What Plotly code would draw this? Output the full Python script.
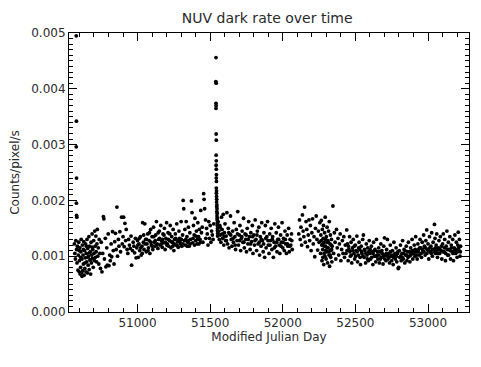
import plotly.graph_objects as go

# (MJD, dark rate in units of 1e-3 counts/pixel/s)
early_spike = [(50578, 4.95), (50579, 3.42), (50578, 2.96), (50580, 2.40), (50579, 1.95), (50580, 1.73), (50582, 1.70)]

early_cluster = [
    (50565, 1.22), (50568, 1.05), (50572, 0.95), (50575, 1.28), (50580, 1.12), (50583, 0.88), (50586, 1.18),
    (50590, 0.75), (50592, 1.02), (50595, 1.25), (50598, 0.72), (50600, 0.92), (50603, 1.15), (50605, 0.68),
    (50608, 0.80), (50610, 1.08), (50612, 1.30), (50615, 0.70), (50617, 0.95), (50620, 1.20), (50622, 0.74),
    (50625, 1.02), (50627, 0.86), (50630, 1.26), (50632, 0.66), (50635, 1.10), (50637, 0.78), (50640, 0.97),
    (50642, 1.22), (50645, 0.72), (50647, 1.05), (50650, 0.90), (50652, 1.30), (50655, 0.70), (50657, 1.14),
    (50660, 0.84), (50662, 1.00), (50665, 1.35), (50667, 0.76), (50670, 1.18), (50672, 0.93), (50675, 1.08),
    (50677, 0.68), (50680, 1.25), (50682, 0.88), (50685, 1.02), (50687, 1.40), (50690, 0.96), (50692, 1.12),
    (50695, 0.80), (50698, 1.28), (50700, 1.05), (50703, 0.92), (50705, 1.45), (50708, 1.18), (50710, 0.98),
    (50713, 1.36), (50715, 1.08), (50718, 0.90), (50720, 1.22), (50723, 1.48), (50726, 1.00), (50730, 1.15),
    (50733, 0.86), (50736, 1.30), (50740, 1.05), (50618, 0.64), (50628, 1.12), (50638, 0.88), (50648, 1.18),
    (50658, 0.98), (50668, 1.06), (50678, 0.94), (50688, 1.16), (50598, 1.10), (50608, 0.98),
]

rise = [
    (50745, 0.78), (50750, 1.25), (50755, 0.72), (50760, 1.05), (50765, 1.71), (50768, 1.67), (50772, 0.95),
    (50778, 1.32), (50782, 0.81), (50788, 1.15), (50792, 0.84), (50798, 1.40), (50803, 0.83), (50808, 1.02),
    (50812, 0.92), (50818, 1.22), (50822, 0.99), (50828, 1.44), (50833, 1.10), (50838, 0.86), (50843, 1.26),
    (50848, 1.41), (50853, 1.12), (50858, 1.88), (50862, 1.00), (50868, 1.30), (50872, 1.18), (50878, 1.44),
    (50883, 1.08), (50890, 1.70), (50895, 1.22), (50900, 1.35), (50904, 1.70), (50908, 1.17), (50913, 1.59),
    (50918, 1.28), (50922, 1.48), (50928, 1.12), (50933, 1.05), (50938, 1.30), (50944, 1.20), (50950, 1.14),
    (50955, 1.36), (50959, 0.84), (50965, 1.10), (50970, 1.25), (50975, 1.18), (50980, 1.06), (50985, 1.32),
    (50990, 0.97),
]

plateau = [
    (50995, 1.15), (51000, 1.28), (51005, 0.98), (51010, 1.22), (51015, 1.10), (51020, 1.35), (51025, 1.02),
    (51030, 1.18), (51035, 1.60), (51040, 1.25), (51045, 1.12), (51050, 1.58), (51055, 1.30), (51060, 1.08),
    (51065, 1.22), (51070, 1.40), (51075, 1.15), (51080, 1.28), (51085, 1.05), (51090, 1.48), (51095, 1.20),
    (51100, 1.35), (51105, 1.12), (51110, 1.52), (51115, 1.25), (51120, 1.18), (51125, 1.38), (51130, 1.62),
    (51135, 1.22), (51140, 1.14), (51145, 1.30), (51150, 1.45), (51155, 1.20), (51160, 1.55), (51165, 1.28),
    (51170, 1.16), (51175, 1.40), (51180, 1.24), (51185, 1.50), (51190, 1.12), (51195, 1.32), (51200, 1.60),
    (51205, 1.22), (51210, 1.42), (51215, 1.18), (51220, 1.28), (51225, 1.55), (51230, 1.15), (51235, 1.35),
    (51240, 1.25), (51245, 1.48), (51250, 1.10), (51255, 1.30), (51260, 1.40), (51265, 1.20), (51270, 1.58),
    (51275, 1.26), (51280, 1.16), (51285, 1.45), (51290, 1.32), (51295, 1.22), (51300, 1.62), (51305, 1.18),
    (51310, 1.38), (51314, 2.00), (51318, 1.85), (51322, 1.28), (51326, 1.48), (51330, 1.20), (51335, 1.62),
    (51340, 1.35), (51345, 1.25), (51350, 1.52), (51355, 1.18), (51360, 1.42), (51365, 1.30), (51371, 1.99),
    (51375, 1.78), (51380, 1.24), (51385, 1.55), (51390, 1.38), (51395, 1.68), (51400, 1.28), (51405, 1.45),
    (51410, 1.22), (51415, 1.60), (51420, 1.35), (51425, 1.48), (51430, 1.30), (51435, 1.82), (51440, 1.42),
    (51002, 1.20), (51012, 1.32), (51022, 1.15), (51032, 1.05), (51042, 1.38), (51052, 1.22), (51062, 1.30),
    (51072, 1.10), (51082, 1.42), (51092, 1.25), (51102, 1.18), (51112, 1.35), (51122, 1.28), (51132, 1.20),
    (51142, 1.42), (51152, 1.32), (51162, 1.22), (51172, 1.30), (51182, 1.38), (51192, 1.25), (51202, 1.20),
    (51212, 1.30), (51222, 1.40), (51232, 1.26), (51242, 1.18), (51252, 1.22), (51262, 1.32), (51272, 1.20),
    (51282, 1.30), (51292, 1.26), (51302, 1.30), (51312, 1.22), (51332, 1.30), (51342, 1.18), (51352, 1.28),
    (51362, 1.22), (51382, 1.32), (51392, 1.20), (51402, 1.36), (51412, 1.30), (51422, 1.22), (51432, 1.25),
    (51445, 1.52), (51450, 1.25), (51455, 2.12), (51458, 2.02), (51462, 1.85), (51468, 1.65), (51470, 1.32),
    (51475, 1.50), (51480, 1.40), (51485, 1.20), (51490, 1.62), (51495, 1.32), (51500, 1.55), (51505, 1.25),
    (51510, 1.45), (51515, 1.38), (51520, 1.30), (51525, 1.58),
]

flare = [
    (51540, 4.56), (51539, 4.13), (51541, 4.10), (51540, 3.74), (51541, 3.70), (51540, 3.65), (51541, 3.19),
    (51542, 3.08), (51541, 2.81), (51542, 2.71), (51541, 2.63), (51542, 2.56), (51543, 2.46), (51542, 2.40),
    (51543, 2.34), (51542, 2.22), (51544, 2.17), (51543, 2.13), (51544, 2.07), (51545, 2.02), (51544, 1.97),
    (51546, 1.92), (51545, 1.89), (51547, 1.85), (51546, 1.80), (51548, 1.77), (51547, 1.72), (51549, 1.68),
    (51548, 1.65), (51550, 1.60), (51549, 1.55), (51551, 1.50), (51550, 1.46), (51552, 1.41), (51551, 1.36),
]

post_flare = [
    (51555, 1.62), (51560, 1.45), (51563, 1.30), (51566, 1.55), (51570, 1.38), (51574, 1.25), (51578, 1.70),
    (51582, 1.48), (51586, 1.32), (51590, 1.75), (51594, 1.20), (51598, 1.42), (51602, 1.58), (51606, 1.28),
    (51610, 1.36), (51615, 1.78), (51620, 1.22), (51625, 1.50), (51630, 1.15), (51635, 1.40), (51640, 1.72),
    (51645, 1.30), (51650, 1.18), (51655, 1.45), (51660, 1.25), (51665, 1.60), (51670, 1.35), (51675, 1.12),
    (51680, 1.48), (51685, 1.28), (51690, 1.80), (51695, 1.20), (51700, 1.38), (51705, 1.55), (51710, 1.10),
    (51715, 1.32), (51720, 1.45), (51725, 1.25), (51730, 1.68), (51735, 1.15), (51740, 1.40), (51745, 1.30),
    (51750, 1.08), (51755, 1.50), (51760, 1.22), (51765, 1.62), (51770, 1.35), (51775, 1.12), (51780, 1.42),
    (51785, 1.26), (51790, 1.55), (51795, 1.05), (51800, 1.38), (51805, 1.20), (51810, 1.65), (51815, 1.30),
    (51820, 1.10), (51825, 1.45), (51830, 1.22), (51835, 1.52), (51840, 1.02), (51845, 1.35), (51850, 1.18),
    (51855, 1.60), (51860, 1.28), (51865, 1.08), (51870, 1.42), (51875, 0.98), (51880, 1.55), (51885, 1.15),
    (51890, 1.35), (51895, 1.62), (51900, 1.20), (51905, 1.05), (51910, 1.40), (51915, 1.28), (51920, 1.50),
    (51925, 1.12), (51930, 1.35), (51935, 0.98), (51940, 1.25), (51945, 1.58), (51950, 1.18), (51955, 1.42),
    (51960, 1.08), (51965, 1.30), (51970, 1.52), (51975, 1.20), (51980, 1.05), (51985, 1.38), (51990, 1.25),
    (51995, 1.60), (52000, 1.15), (52005, 1.32), (52010, 1.10), (52015, 1.45), (52020, 1.22), (52025, 1.05),
    (52030, 1.38), (52035, 1.18), (52040, 1.50), (52045, 1.08), (52050, 1.30), (52055, 1.20), (52060, 1.40),
    (52065, 1.12),
    (51568, 1.52), (51584, 1.40), (51596, 1.35), (51612, 1.28), (51628, 1.42), (51642, 1.38), (51658, 1.32),
    (51672, 1.20), (51688, 1.40), (51702, 1.28), (51718, 1.35), (51732, 1.25), (51748, 1.38), (51762, 1.30),
    (51778, 1.22), (51792, 1.35), (51808, 1.28), (51822, 1.38), (51838, 1.25), (51852, 1.30), (51868, 1.22),
    (51882, 1.32), (51898, 1.28), (51912, 1.20), (51928, 1.30), (51942, 1.15), (51958, 1.25), (51972, 1.30),
    (51988, 1.18), (52002, 1.25), (52018, 1.30), (52032, 1.22), (52048, 1.18), (52062, 1.28),
]

after_gap = [
    (52110, 1.40), (52115, 1.65), (52120, 1.30), (52125, 1.52), (52130, 1.20), (52135, 1.74), (52140, 1.45),
    (52145, 1.35), (52150, 1.88), (52155, 1.25), (52160, 1.62), (52165, 1.48), (52170, 1.17), (52175, 1.38),
    (52180, 1.65), (52185, 1.28), (52190, 1.55), (52195, 1.10), (52200, 1.42), (52205, 1.67), (52210, 1.22),
    (52215, 1.35), (52220, 0.99), (52225, 1.50), (52230, 1.72), (52235, 1.30), (52240, 1.11), (52245, 1.45),
    (52250, 1.25), (52255, 1.60), (52260, 1.05), (52262, 1.38), (52265, 1.64), (52268, 1.20), (52270, 0.92),
    (52272, 1.48), (52275, 1.12), (52278, 1.32), (52280, 1.55), (52282, 0.85), (52285, 1.25), (52288, 1.42),
    (52290, 1.00), (52292, 1.70), (52295, 1.18), (52298, 0.95), (52300, 1.35), (52302, 1.08), (52305, 1.52),
    (52308, 0.88), (52310, 1.28), (52312, 1.15), (52315, 1.45), (52318, 1.02), (52320, 1.62), (52322, 0.82),
    (52325, 1.22), (52328, 1.38), (52330, 0.98), (52332, 1.10), (52335, 1.30), (52338, 0.90), (52340, 1.18),
    (52345, 1.90), (52350, 1.05), (52355, 1.42), (52360, 1.25), (52365, 0.95), (52370, 1.48), (52375, 1.15),
    (52380, 1.32), (52385, 1.02), (52390, 1.22), (52395, 1.40), (52400, 0.92), (52405, 1.12), (52410, 1.28),
    (52415, 1.05), (52420, 1.35), (52425, 0.98), (52430, 1.20),
    (52264, 1.28), (52274, 1.22), (52284, 1.05), (52294, 1.30), (52304, 1.15), (52314, 1.25), (52324, 1.10),
    (52334, 1.20), (52286, 1.18), (52296, 1.10), (52306, 1.25), (52316, 1.08), (52326, 1.02), (52336, 1.12),
    (52276, 0.98),
]

late = [
    (52435, 1.05), (52440, 1.47), (52445, 1.22), (52450, 0.92), (52455, 1.12), (52460, 1.35), (52465, 1.00),
    (52470, 1.25), (52475, 0.88), (52480, 1.15), (52485, 1.30), (52490, 1.05), (52495, 0.95), (52500, 1.20),
    (52505, 1.10), (52510, 1.36), (52515, 0.90), (52520, 1.02), (52525, 1.25), (52530, 1.12), (52535, 0.85),
    (52540, 1.18), (52545, 1.05), (52550, 1.30), (52555, 1.38), (52560, 0.98), (52565, 1.10), (52570, 0.88),
    (52575, 1.22), (52580, 1.02), (52585, 1.15), (52590, 0.92), (52595, 1.28), (52600, 1.05), (52605, 0.95),
    (52610, 1.18), (52615, 1.08), (52620, 0.85), (52625, 1.25), (52630, 1.00), (52635, 1.12), (52640, 0.90),
    (52645, 1.30), (52650, 1.02), (52655, 0.95), (52660, 1.15), (52665, 0.88), (52670, 1.08), (52675, 1.22),
    (52680, 0.98), (52685, 1.05), (52690, 0.86), (52695, 1.18), (52700, 1.33), (52705, 1.02), (52710, 0.92),
    (52715, 1.12), (52720, 1.30), (52725, 0.95), (52730, 1.05), (52735, 0.88), (52740, 1.20), (52745, 1.00),
    (52750, 0.92), (52755, 1.10), (52760, 0.85), (52765, 1.25), (52770, 1.02), (52775, 0.95), (52780, 1.15),
    (52785, 0.90), (52790, 1.05), (52795, 0.78), (52798, 0.80), (52802, 1.10), (52805, 0.98), (52810, 1.20),
    (52815, 0.92), (52820, 1.05), (52825, 1.28), (52830, 0.95), (52835, 1.12), (52840, 0.88), (52845, 1.02),
    (52850, 1.18), (52855, 0.92), (52860, 1.08), (52865, 1.25), (52870, 1.00), (52875, 0.90), (52880, 1.15),
    (52885, 1.05), (52890, 1.30), (52895, 0.95), (52900, 1.10), (52905, 1.20), (52910, 1.00), (52915, 1.35),
    (52920, 1.08), (52925, 0.95), (52930, 1.22), (52935, 1.12), (52940, 1.02), (52945, 1.30), (52950, 1.15),
    (52955, 0.98), (52960, 1.25), (52965, 1.08), (52970, 1.38), (52975, 1.18), (52980, 1.02), (52985, 1.28),
    (52991, 1.47), (52995, 1.12), (53000, 1.22), (53005, 0.95), (53010, 1.35), (53015, 1.08), (53020, 1.18),
    (53025, 1.42), (53030, 1.00), (53035, 1.25), (53040, 1.12), (53044, 1.57), (53048, 1.32), (53052, 1.05),
    (53056, 1.20), (53060, 1.40), (53065, 0.98), (53070, 1.15), (53075, 1.28), (53080, 1.05), (53085, 1.35),
    (53090, 1.10), (53095, 0.95), (53100, 1.22), (53105, 1.40), (53110, 1.08), (53115, 1.30), (53120, 0.92),
    (53125, 1.18), (53130, 1.45), (53135, 1.02), (53140, 1.25), (53145, 1.12), (53150, 1.35), (53155, 0.95),
    (53160, 1.20), (53165, 1.08), (53170, 1.30), (53175, 0.92), (53180, 1.15), (53185, 1.38), (53190, 1.05),
    (53195, 1.25), (53200, 0.98), (53205, 1.20), (53208, 1.43), (53212, 1.10), (53216, 1.30), (53220, 1.00),
    (53224, 1.18),
    (52442, 1.10), (52452, 1.18), (52462, 1.08), (52472, 1.02), (52482, 1.10), (52492, 1.18), (52502, 1.00),
    (52512, 1.08), (52522, 1.15), (52532, 0.98), (52542, 1.08), (52552, 1.00), (52562, 1.12), (52572, 1.05),
    (52582, 0.95), (52592, 1.08), (52602, 1.12), (52612, 0.98), (52622, 1.05), (52632, 1.10), (52642, 1.00),
    (52652, 1.08), (52662, 1.02), (52672, 0.95), (52682, 1.10), (52692, 1.00), (52702, 0.95), (52712, 1.05),
    (52722, 1.00), (52732, 0.98), (52742, 1.08), (52752, 1.02), (52762, 0.98), (52772, 1.05), (52782, 1.00),
    (52792, 1.08), (52812, 1.00), (52822, 0.98), (52832, 1.05), (52842, 1.10), (52852, 1.02), (52862, 0.98),
    (52872, 1.08), (52882, 1.02), (52892, 1.10), (52902, 1.05), (52912, 1.12), (52922, 1.02), (52932, 1.08),
    (52942, 1.15), (52952, 1.05), (52962, 1.12), (52972, 1.08), (52982, 1.15), (52992, 1.05), (53002, 1.10),
    (53012, 1.15), (53022, 1.05), (53032, 1.12), (53042, 1.08), (53052, 1.15), (53062, 1.10), (53072, 1.05),
    (53082, 1.12), (53092, 1.18), (53102, 1.08), (53112, 1.15), (53122, 1.05), (53132, 1.12), (53142, 1.02),
    (53152, 1.10), (53162, 1.15), (53172, 1.05), (53182, 1.10), (53192, 1.12), (53202, 1.08), (53212, 1.15),
    (53222, 1.08),
]

segments = [early_spike, early_cluster, rise, plateau, flare, post_flare, after_gap, late]
mjd = [p[0] for seg in segments for p in seg]
rate = [p[1] / 1000.0 for seg in segments for p in seg]

x_ticks = [51000, 51500, 52000, 52500, 53000]
y_ticks = [0.000, 0.001, 0.002, 0.003, 0.004, 0.005]

FONT = "DejaVu Sans"
TXT = "#2a2a2a"

fig = go.Figure(go.Scatter(
    x=mjd, y=rate, mode="markers",
    marker=dict(color="black", size=3.8, line=dict(width=0)),
    showlegend=False,
))

axis_common = dict(
    showline=True, linecolor="black", linewidth=1, mirror="ticks",
    ticks="inside", ticklen=8, tickwidth=1, tickcolor="black",
    showgrid=False, zeroline=False, automargin=False,
    tickfont=dict(family=FONT, size=12, color=TXT),
)

fig.update_xaxes(
    range=[50528, 53282], tickvals=x_ticks, tickformat="d",
    minor=dict(ticks="inside", dtick=100, tick0=51000, ticklen=4, tickcolor="black"),
    title=dict(text="Modified Julian Day", font=dict(family=FONT, size=12, color=TXT), standoff=2),
    **axis_common,
)
fig.update_yaxes(
    range=[0, 0.005], tickvals=y_ticks, tickformat=".3f",
    minor=dict(ticks="inside", dtick=0.0001, ticklen=4, tickcolor="black"),
    title=dict(text="Counts/pixel/s", font=dict(family=FONT, size=12, color=TXT), standoff=12),
    **axis_common,
)

# page body adds an 8px offset, so the figure is sized/positioned to compensate
fig.update_layout(
    width=473, height=359,
    margin=dict(l=61, r=12, t=25, b=55),
    paper_bgcolor="white", plot_bgcolor="white",
    title=dict(text="NUV dark rate over time", x=0.548, xanchor="center", y=0.972, yanchor="middle",
               font=dict(family=FONT, size=14, color=TXT)),
)

fig.write_html("out.html")
